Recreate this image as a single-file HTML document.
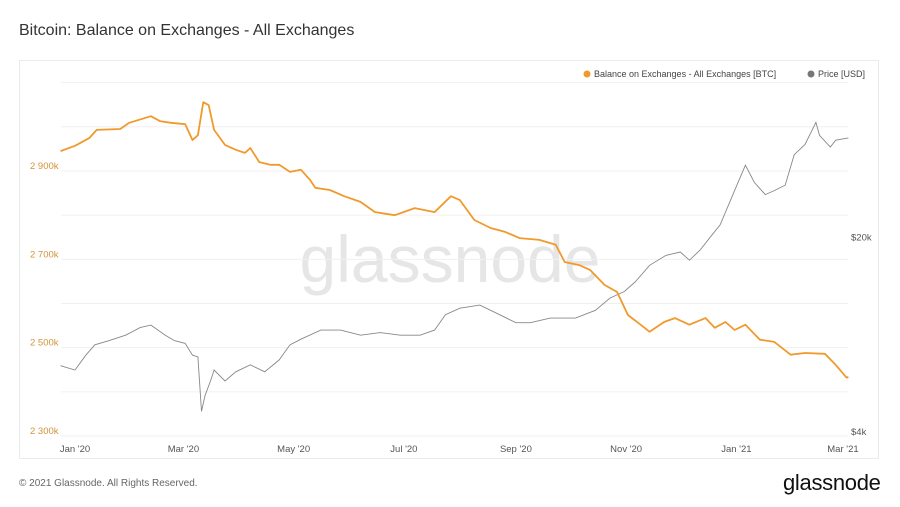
<!DOCTYPE html>
<html><head><meta charset="utf-8"><style>
body{margin:0;width:900px;height:507px;background:#fff;font-family:"Liberation Sans",sans-serif;overflow:hidden;position:relative}
.t{position:absolute;white-space:nowrap}
</style></head><body>
<div class="t" style="left:19px;top:22px;font-size:16px;color:#333">Bitcoin: Balance on Exchanges - All Exchanges</div>
<div style="position:absolute;left:19px;top:60px;width:860px;height:399px;border:1px solid #ebebeb;box-sizing:border-box"></div>
<svg id="c" width="900" height="507" style="position:absolute;left:0;top:0">
<text x="450" y="282" text-anchor="middle" font-family="Liberation Sans, sans-serif" font-size="66" fill="#e6e6e6">glassnode</text>
<g font-size="9" fill="#444">
<circle cx="587" cy="74" r="3.5" fill="#f09a2c"/>
<text x="594" y="77">Balance on Exchanges - All Exchanges [BTC]</text>
<circle cx="811" cy="74" r="3.5" fill="#777"/>
<text x="818" y="77">Price [USD]</text>
</g>
<g id="grid"></g><g id="axes"></g><g id="series"></g>
</svg>
<div class="t" style="left:19px;top:478px;font-size:10px;color:#666">© 2021 Glassnode. All Rights Reserved.</div>
<div class="t" style="left:783px;top:470px;font-size:22px;color:#111;letter-spacing:-0.3px">glassnode</div>
<script>
const balDays=[-8,0,8,12,25,30,42,47,53,61,65,68,71,74,77,83,89,94,97,102,108,113,119,125,130,133,141,149,158,166,177,188,199,208,213,221,230,238,246,257,266,271,279,285,293,300,306,313,318,326,332,340,349,354,360,365,371,379,387,396,404,415,421,427,428];
const balVals=[2945,2957,2975,2993,2995,3009,3024,3013,3009,3006,2970,2981,3056,3049,2993,2959,2948,2941,2952,2920,2914,2914,2898,2903,2880,2862,2857,2843,2830,2807,2800,2816,2807,2843,2834,2789,2771,2762,2748,2744,2733,2694,2687,2676,2642,2626,2574,2552,2536,2558,2567,2552,2567,2545,2558,2540,2552,2518,2513,2484,2488,2486,2461,2432,2434];
const priceDays=[-8,0,6,11,19,28,36,42,50,55,61,65,68,70,72,75,77,83,89,97,105,113,119,125,136,147,158,169,180,191,199,205,213,224,235,244,252,263,277,288,296,304,310,318,327,335,340,346,351,357,365,371,376,382,387,393,398,404,410,412,418,421,428];
const priceVals=[7.15,6.9,7.8,8.5,8.8,9.2,9.8,10.0,9.2,8.8,8.6,7.8,7.7,4.9,5.6,6.3,6.9,6.3,6.8,7.2,6.8,7.5,8.5,8.9,9.6,9.6,9.2,9.4,9.2,9.2,9.6,10.9,11.5,11.8,10.9,10.2,10.2,10.6,10.6,11.3,12.5,13.2,14.3,16.4,17.8,18.3,17.1,18.6,20.5,22.9,30.4,37.5,32.5,29.4,30.4,31.8,40.9,44.5,53.4,48,43.6,46.1,47];
const leftTicks=[2300,2500,2700,2900];
const leftTickLabels=["2 300k","2 500k","2 700k","2 900k"];
const rightTicks=[4,20];
const rightTickLabels=["$4k","$20k"];
const xTickDays=[0,60,121,182,244,305,366,425];
const xTickLabels=["Jan '20","Mar '20","May '20","Jul '20","Sep '20","Nov '20","Jan '21","Mar '21"];
const X=d=>75+d*1.807;
const YL=v=>436-(v-2300)*0.4417;
const YR=p=>436-121*Math.log(p/4);
const NS="http://www.w3.org/2000/svg";
function mk(tag,attrs,parent){const e=document.createElementNS(NS,tag);for(const k in attrs)e.setAttribute(k,attrs[k]);document.getElementById(parent).appendChild(e);return e;}
for(let v=2300;v<=3100;v+=100){
 const g=mk('line',{x1:61,x2:848,y1:YL(v),y2:YL(v),stroke:'#f0f0f0','stroke-width':1},'grid');
 
 
}
leftTicks.forEach((v,i)=>{
 const t=mk('text',{x:30,y:YL(v)-2,'font-size':9.5,fill:'#d4923a'},'axes');t.textContent=leftTickLabels[i];
 
 
});
rightTicks.forEach((v,i)=>{
 const t=mk('text',{x:851,y:YR(v)-1,'font-size':9.5,fill:'#555'},'axes');t.textContent=rightTickLabels[i];
 
 
});
xTickDays.forEach((d,i)=>{
 const t=mk('text',{x:X(d),y:452,'font-size':9.5,fill:'#555','text-anchor':'middle'},'axes');t.textContent=xTickLabels[i];
 
 
});
const pp=mk('polyline',{points:priceDays.map((d,i)=>X(d).toFixed(1)+','+YR(priceVals[i]).toFixed(1)).join(' '),fill:'none',stroke:'#888','stroke-width':0.9},'series');


const bp=mk('polyline',{points:balDays.map((d,i)=>X(d).toFixed(1)+','+YL(balVals[i]).toFixed(1)).join(' '),fill:'none',stroke:'#f09a2c','stroke-width':1.8,'stroke-linejoin':'round'},'series');


</script>
</body></html>
